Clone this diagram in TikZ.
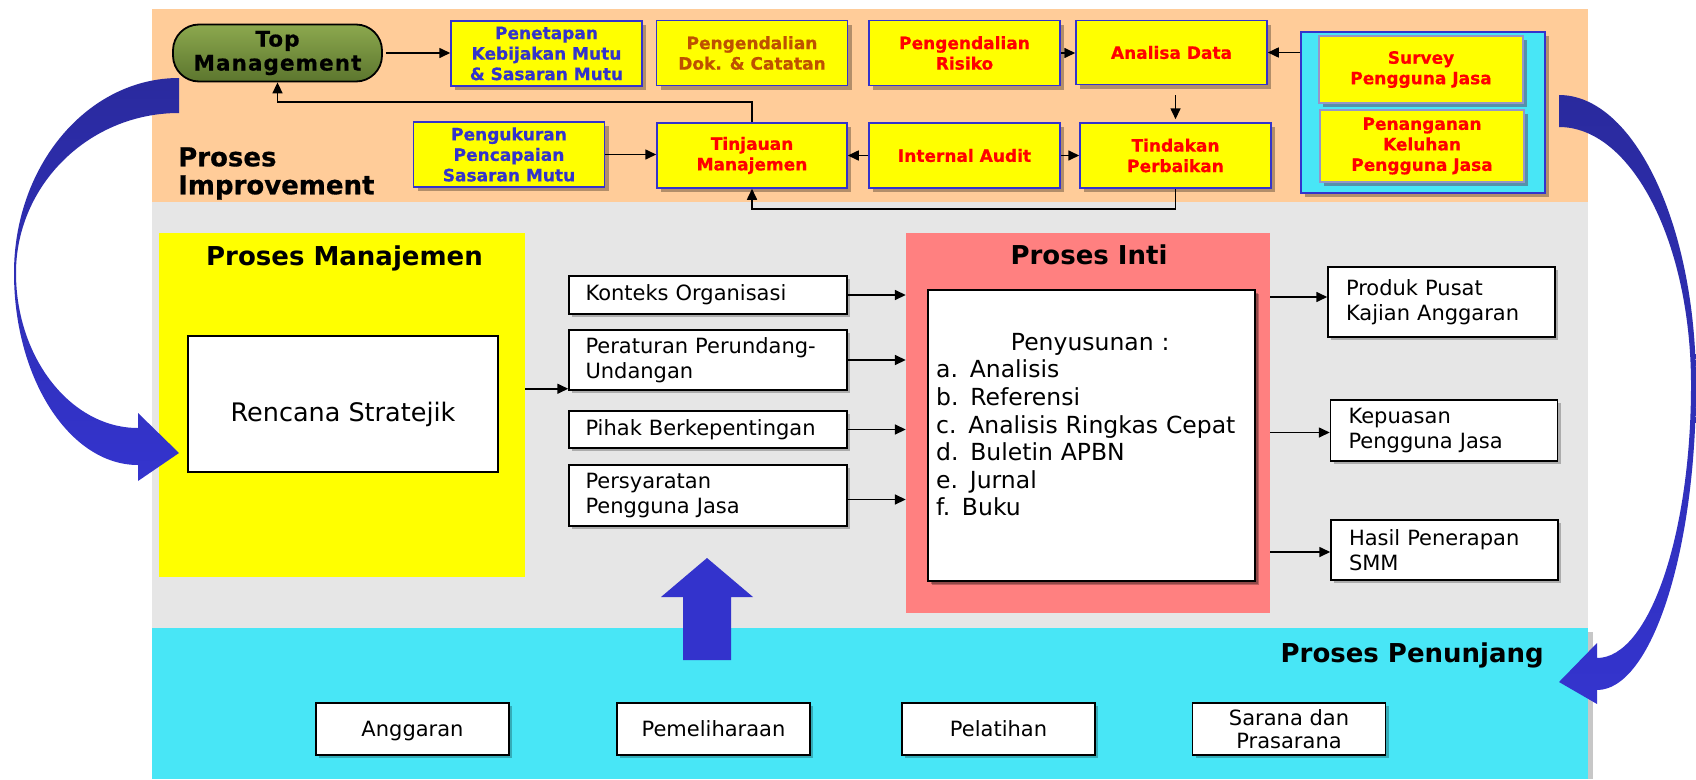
\documentclass[tikz,border=0pt]{standalone}
\usepackage{fontspec}
\setmainfont{DejaVu Sans}
\newfontfamily\heavyfont[FakeBold=0.6]{DejaVu Sans}
\newfontfamily\tmfont[LetterSpace=5,FakeBold=0.6]{DejaVu Sans}
\usetikzlibrary{shadows,arrows.meta,calc}
\definecolor{peach}{RGB}{255,204,153}
\definecolor{bandgrey}{RGB}{230,230,230}
\definecolor{bandcyan}{RGB}{72,230,246}
\definecolor{bblue}{RGB}{51,51,204}
\definecolor{dokorange}{RGB}{190,80,0}
\definecolor{pinkinti}{RGB}{255,128,128}
\definecolor{survborder}{RGB}{150,150,200}
\definecolor{darkarrow}{RGB}{42,42,158}
\definecolor{lightarrow}{RGB}{52,52,206}
\definecolor{olivelight}{RGB}{140,168,78}
\definecolor{olivedark}{RGB}{92,118,46}
\definecolor{yel}{RGB}{255,255,0}
\definecolor{redtxt}{RGB}{255,0,0}
\newcommand\ftop{\heavyfont\fontsize{17}{20.5}\selectfont\bfseries}
\newcommand\fmgmt{\tmfont\fontsize{21.5}{24}\selectfont\bfseries}
\newcommand\ftitle{\fontsize{26}{30}\selectfont\bfseries}
\newcommand\fimp{\heavyfont\fontsize{26}{28}\selectfont\bfseries}
\newcommand\fmid{\fontsize{21}{25}\selectfont}
\newcommand\fsup{\fontsize{21}{23}\selectfont}
\newcommand\flist{\fontsize{23.5}{27.6}\selectfont}
\newcommand\frenc{\fontsize{25.5}{30}\selectfont}
\tikzset{
  topbox/.style={draw=bblue, line width=1.5pt, fill=yel, minimum width=191pt, minimum height=65pt, align=center, font=\ftop, inner sep=2pt,
    drop shadow={shadow xshift=4pt, shadow yshift=-4pt, opacity=0.3, fill=black}},
  survbox/.style={draw=survborder, line width=1.5pt, fill=yel, text=redtxt, minimum width=204pt, align=center, font=\ftop, inner sep=2pt,
    drop shadow={shadow xshift=4pt, shadow yshift=-4pt, opacity=0.7, fill={rgb,255:red,90;green,110;blue,140}}},
  whitebox/.style={draw=black, line width=1.5pt, fill=white, font=\fmid,
    drop shadow={shadow xshift=3pt, shadow yshift=-3pt, opacity=0.25, fill=black}},
  inbox/.style={whitebox, minimum width=278pt, text width=245pt, inner xsep=16.5pt, inner ysep=2pt, align=left},
  outbox/.style={whitebox, text width=191pt, inner xsep=18pt, inner ysep=2pt, align=left},
  supbox/.style={whitebox, minimum width=193pt, minimum height=52pt, align=center, font=\fsup, inner sep=2pt, text depth=0pt},
  arr/.style={line width=1.6pt, -{Triangle[length=11pt,width=10pt]}},
  bigarrow/.style={top color=darkarrow, bottom color=lightarrow, draw=none}
}
\begin{document}
\begin{tikzpicture}[x=1pt,y=-1pt]
\fill[white] (0,0) rectangle (1696,779);
\useasboundingbox (0,0) rectangle (1696,779);
% bands
\fill[peach] (152,9) rectangle (1588,202);
\fill[bandgrey] (152,202) rectangle (1588,628);
\fill[black!22] (1588,632) rectangle (1593,779);
\fill[bandcyan] (152,628) rectangle (1588,779);

% ---------- Proses Improvement ----------
\node[draw=black, line width=1.8pt, rounded corners=26pt, minimum width=209pt, minimum height=57pt,
      top color=olivelight, bottom color=olivedark, align=center, font=\fmgmt, inner sep=0pt] (topmgmt) at (277.5,53) {Top\\Management};
\node[topbox, text=bblue] (penetapan) at (546.5,53.5) {Penetapan\\Kebijakan Mutu\\\& Sasaran Mutu};
\node[topbox, text=dokorange] (dok) at (752,53) {Pengendalian\\Dok. \& Catatan};
\node[topbox, text=redtxt] (risiko) at (964.5,53) {Pengendalian\\Risiko};
\node[topbox, text=redtxt, minimum height=64pt] (analisa) at (1171.5,52.5) {Analisa Data};
\node[topbox, text=bblue] (ukur) at (509,154.5) {Pengukuran\\Pencapaian\\Sasaran Mutu};
\node[topbox, text=redtxt, minimum width=190pt] (tinjau) at (752,155.5) {Tinjauan\\Manajemen};
\node[topbox, text=redtxt] (audit) at (964.5,155.5) {Internal Audit};
\node[topbox, text=redtxt] (tindak) at (1175.5,155.5) {Tindakan\\Perbaikan};
\node[draw=bblue, line width=1.5pt, fill=bandcyan, minimum width=244pt, minimum height=161pt, inner sep=0pt,
      drop shadow={shadow xshift=4pt, shadow yshift=-4pt, opacity=0.3, fill=black}] (grp) at (1423,112.5) {};
\node[survbox, minimum height=67pt] (survey) at (1421,69.5) {Survey\\Pengguna Jasa};
\node[survbox, minimum height=72pt] (keluhan) at (1422,146) {Penanganan\\Keluhan\\Pengguna Jasa};
\node[anchor=west, align=left, font=\fimp, inner sep=0pt] (improve) at (178,173.5) {Proses\\Improvement};

\draw[arr, shorten <=3pt] (topmgmt.east) -- (topmgmt.east -| penetapan.west);
\draw[arr] (risiko.east) -- (risiko.east -| analisa.west);
\draw[arr] (grp.west |- analisa.east) -- (analisa.east);
\draw[arr, shorten <=10pt, shorten >=3pt] (tindak.north |- analisa.south) -- (tindak.north);
\draw[arr] (ukur.east) -- (ukur.east -| tinjau.west);
\draw[arr] (audit.west) -- (tinjau.east);
\draw[arr] (audit.east) -- (tindak.west);
\draw[arr] (tinjau.north) -- ++(0,-20) -| (topmgmt.south);
\draw[arr] (tindak.south) -- ++(0,20) -| (tinjau.south);

% ---------- Proses Manajemen ----------
\node[fill=yel, minimum width=366pt, minimum height=344pt, inner sep=0pt] (prosman) at (342,405) {};
\node[font=\ftitle, anchor=base] (prosmantitle) at (344.5,265) {Proses Manajemen};
\node[draw=black, line width=1.5pt, fill=white, minimum width=310pt, minimum height=136pt, font=\frenc] (renstra) at (343,404)
  {\raisebox{-17pt}[0pt][0pt]{Rencana Stratejik}};

\node[inbox, minimum height=38pt] (konteks) at (708,295) {Konteks Organisasi};
\node[inbox, minimum height=60pt] (peraturan) at (708,360) {Peraturan Perundang-\\Undangan};
\node[inbox, minimum height=37pt] (pihak) at (708,429.5) {Pihak Berkepentingan};
\node[inbox, minimum height=61pt] (syarat) at (708,495.5) {Persyaratan\\Pengguna Jasa};
\coordinate (pa) at ([yshift=2pt]peraturan.south west);
\draw[arr] (prosman.east |- pa) -- (pa);

% ---------- Proses Inti ----------
\node[fill=pinkinti, minimum width=364pt, minimum height=380pt, inner sep=0pt] (inti) at (1088,423) {};
\node[font=\ftitle, anchor=base] (intititle) at (1089,264) {Proses Inti};
\node[whitebox, minimum width=327pt, minimum height=291pt, inner sep=0pt,
      drop shadow={shadow xshift=4pt, shadow yshift=-4pt, opacity=0.25, fill=black}] (penyusun) at (1091.5,435.5) {};
\node[anchor=north west, inner sep=0pt, text width=308pt, align=left, font=\flist] (penyusuntext) at (936,333)
  {\hfill Penyusunan :\hfill\null\\a. Analisis\\b. Referensi\\c. Analisis Ringkas Cepat\\d. Buletin APBN\\e. Jurnal\\f. Buku};

\draw[arr] (konteks.east) -- (konteks.east -| inti.west);
\draw[arr] (peraturan.east) -- (peraturan.east -| inti.west);
\draw[arr] (pihak.east) -- (pihak.east -| inti.west);
\draw[arr] ([yshift=-4pt]syarat.east) -- ([yshift=-4pt]syarat.east -| inti.west);

\node[outbox, minimum height=70pt] (produk) at (1441.5,302) {Produk Pusat\\Kajian Anggaran};
\node[outbox, minimum height=61pt] (puas) at (1444,430.5) {Kepuasan\\Pengguna Jasa};
\node[outbox, minimum height=60pt] (hasil) at (1444.5,550) {Hasil Penerapan\\SMM};
\draw[arr] ([yshift=5pt]inti.east |- produk.west) -- ([yshift=5pt]produk.west);
\draw[arr] ([yshift=-2pt]inti.east |- puas.west) -- ([yshift=-2pt]puas.west);
\draw[arr] ([yshift=-2pt]inti.east |- hasil.west) -- ([yshift=-2pt]hasil.west);

% ---------- Proses Penunjang ----------
\node[font=\ftitle, anchor=base east, inner sep=0pt] (penunjang) at (1544,662) {Proses Penunjang};
\node[supbox] (anggaran) at (412.5,729) {Anggaran};
\node[supbox] (pelihara) at (713.5,729) {Pemeliharaan};
\node[supbox] (latih) at (998.5,729) {Pelatihan};
\node[supbox] (sarana) at (1289,729) {Sarana dan\\Prasarana};

% up arrow
\fill[bblue] (683,660) -- (683,597) -- (661,597) -- (707,558) -- (753,597) -- (731,597) -- (731,660) -- cycle;

% big curved arrows
\shade[bigarrow] (179,78) .. controls (88,78) and (14,165) .. (14,273)
  .. controls (14,379) and (70,465) .. (138,465) -- (138,481) -- (179,453) -- (138,413) -- (138,428)
  .. controls (71,428) and (16,358) .. (16,273) .. controls (16,185) and (89,113) .. (179,113) -- cycle;
\shade[bigarrow] (1559,95) .. controls (1634,95) and (1696,225) .. (1696,385)
  .. controls (1696,553) and (1651,690) .. (1597,690) -- (1597,704) -- (1559,682) -- (1597,643) -- (1597,658)
  .. controls (1649,658) and (1691,535) .. (1691,385) .. controls (1691,243) and (1632,127) .. (1559,127) -- cycle;
\end{tikzpicture}
\end{document}
